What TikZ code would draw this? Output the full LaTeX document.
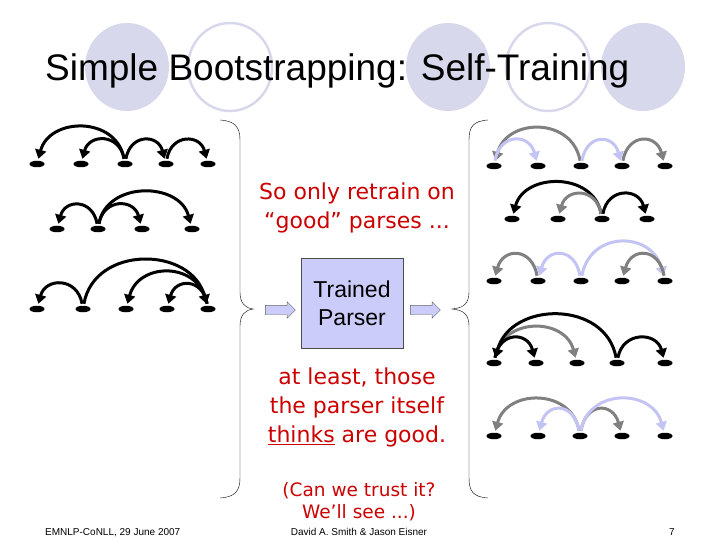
\documentclass[tikz,border=0pt]{standalone}
\usepackage{fontspec}
\setmainfont{Liberation Sans}
\newfontfamily\handfont{DejaVu Sans}
\usetikzlibrary{arrows.meta,shapes.geometric,shapes.arrows}

\definecolor{dotlav}{RGB}{216,216,236}
\definecolor{deplav}{RGB}{196,196,244}
\definecolor{depgray}{RGB}{128,128,128}
\definecolor{boxfill}{RGB}{204,204,250}
\definecolor{handred}{RGB}{204,0,0}

\begin{document}
\begin{tikzpicture}[
  x=1pt,
  y=1pt,
  word/.style={
    ellipse,
    fill=black,
    minimum width=15pt,
    minimum height=6.5pt,
    inner sep=0pt,
    outer sep=2pt
  },
  dep/.style={
    line width=3pt,
    -{Triangle[width=11pt,length=9pt]}
  },
  gdep/.style={dep,depgray},
  ldep/.style={dep,deplav},
  lt/.style={out=100,in=75,looseness=#1},
  lt/.default=1.6,
  rt/.style={out=80,in=105,looseness=#1},
  rt/.default=1.6,
  box/.style={
    draw=black!70,
    fill=boxfill,
    minimum width=102pt,
    minimum height=90pt,
    align=center,
    font=\fontsize{23}{28}\selectfont
  },
  blockarrow/.style={
    single arrow,
    draw=black!60,
    fill=boxfill,
    minimum height=30pt,
    inner xsep=0pt,
    inner ysep=4.5pt,
    single arrow head extend=3.5pt
  },
  hand/.style={
    text=handred,
    align=center,
    font=\handfont\fontsize{22}{29}\selectfont
  },
  foot/.style={
    font=\fontsize{10}{12}\selectfont
  },
  brace/.style={
    thin
  }
  ]
  \useasboundingbox (0,0) rectangle (720,-540);

  % title dots
  \fill [dotlav] (127,-67) ellipse [x radius=42pt, y radius=44pt];
  \draw [dotlav,line width=2.5pt] (230,-67) ellipse [x radius=42pt, y radius=44pt];
  \fill [dotlav] (448,-67) ellipse [x radius=42pt, y radius=44pt];
  \draw [dotlav,line width=2.5pt] (548,-67) ellipse [x radius=42pt, y radius=44pt];
  \fill [dotlav] (643,-67) ellipse [x radius=42pt, y radius=44pt];
  \node (title) [anchor=base west,inner sep=0pt,font=\fontsize{37}{44}\selectfont] at (45,-81) {Simple Bootstrapping: Self-Training};

  % parses going in
  \node (a1) [word] at (37,-164) {};
  \node (a2) [word] at (81,-164) {};
  \node (a3) [word] at (125,-164) {};
  \node (a4) [word] at (166,-164) {};
  \node (a5) [word] at (208,-164) {};
  \draw [dep] (a3) to[lt=1.3] (a1);
  \draw [dep] (a3) to[lt=1.6] (a2);
  \draw [dep] (a3) to[rt=1.7] (a4);
  \draw [dep] (a4) to[rt=1.65] (a5);

  \node (b1) [word] at (57,-229) {};
  \node (b2) [word] at (98,-229) {};
  \node (b3) [word] at (142,-229) {};
  \node (b4) [word] at (192,-229) {};
  \draw [dep] (b2) to[lt=1.7] (b1);
  \draw [dep] (b2) to[rt=1.6] (b3);
  \draw [dep] (b2) to[rt=1.22] (b4);

  \node (c1) [word] at (37,-309) {};
  \node (c2) [word] at (83,-309) {};
  \node (c3) [word] at (126,-309) {};
  \node (c4) [word] at (167,-309) {};
  \node (c5) [word] at (208,-309) {};
  \draw [dep] (c2) to[lt=1.6] (c1);
  \draw [dep] (c2) to[rt=1.25] (c5);
  \draw [dep] (c5) to[lt=1.4] (c3);
  \draw [dep] (c5) to[lt=1.75] (c4);

  % braces
  \draw [brace] (220,-120) .. controls (235,-121) and (240,-127) .. (240,-140)
    -- (240,-292) .. controls (240,-303) and (245,-308) .. (253,-309)
    .. controls (245,-310) and (240,-315) .. (240,-326)
    -- (240,-478) .. controls (240,-491) and (235,-497) .. (220,-498);
  \draw [brace] (488,-120) .. controls (473,-121) and (469,-127) .. (469,-140)
    -- (469,-292) .. controls (469,-303) and (464,-308) .. (452,-309)
    .. controls (464,-310) and (469,-315) .. (469,-326)
    -- (469,-478) .. controls (469,-491) and (473,-497) .. (488,-498);

  % the parser
  \node (parser) [box] at (352,-303) {Trained\\Parser};
  \node (inarrow) [blockarrow] at (278,-310) {};
  \node (outarrow) [blockarrow] at (423,-310) {};

  \node (retrain) [hand] at (357,-208) {So only retrain on\\“good” parses ...};
  \node (atleast) [hand] at (357,-407) {at least, those\\the parser itself\\\underline{thinks} are good.};
  \node (trust) [hand,font=\handfont\fontsize{18.5}{22}\selectfont] at (359,-502) {(Can we trust it?\\We’ll see ...)};

  % parses coming out
  \node (d1) [word] at (494,-166) {};
  \node (d2) [word] at (538,-166) {};
  \node (d3) [word] at (581,-166) {};
  \node (d4) [word] at (622,-166) {};
  \node (d5) [word] at (665,-166) {};
  \draw [gdep] (d3) to[lt=1.35] (d1);
  \draw [ldep] (d1) to[rt=1.75] (d2);
  \draw [ldep] (d3) to[rt=1.85] (d4);
  \draw [gdep] (d4) to[rt=1.78] (d5);

  \node (e1) [word] at (512,-219) {};
  \node (e2) [word] at (558,-219) {};
  \node (e3) [word] at (602,-219) {};
  \node (e4) [word] at (647,-219) {};
  \draw [dep] (e3) to[lt=1.25] (e1);
  \draw [gdep] (e3) to[lt=1.65] (e2);
  \draw [dep] (e3) to[rt=1.62] (e4);

  \node (f1) [word] at (494,-281) {};
  \node (f2) [word] at (538,-281) {};
  \node (f3) [word] at (581,-281) {};
  \node (f4) [word] at (622,-281) {};
  \node (f5) [word] at (665,-281) {};
  \draw [gdep] (f2) to[lt=1.8] (f1);
  \draw [ldep] (f3) to[lt=1.85] (f2);
  \draw [ldep] (f3) to[rt=1.45] (f5);
  \draw [gdep] (f5) to[lt=1.85] (f4);

  \node (g1) [word] at (494,-363) {};
  \node (g2) [word] at (536,-363) {};
  \node (g3) [word] at (577,-363) {};
  \node (g4) [word] at (617,-363) {};
  \node (g5) [word] at (665,-363) {};
  \draw [gdep] (g1) to[rt=1.33] (g3);
  \draw [dep] (g4) to[lt=1.25] (g1);
  \draw [dep] (g1) to[rt=1.75] (g2);
  \draw [dep] (g4) to[rt=1.52] (g5);

  \node (h1) [word] at (494,-436) {};
  \node (h2) [word] at (538,-436) {};
  \node (h3) [word] at (580,-436) {};
  \node (h4) [word] at (622,-436) {};
  \node (h5) [word] at (665,-436) {};
  \draw [gdep] (h3) to[lt=1.33] (h1);
  \draw [ldep] (h3) to[lt=1.9] (h2);
  \draw [gdep] (h3) to[rt=1.9] (h4);
  \draw [ldep] (h3) to[rt=1.35] (h5);

  % footer
  \node (date) [foot,anchor=base west,inner sep=0pt] at (45,-535) {EMNLP-CoNLL, 29 June 2007};
  \node (authors) [foot,anchor=base,inner sep=0pt] at (359,-535) {David A. Smith \& Jason Eisner};
  \node (page) [foot,anchor=base,inner sep=0pt] at (672,-535) {7};
\end{tikzpicture}
\end{document}
